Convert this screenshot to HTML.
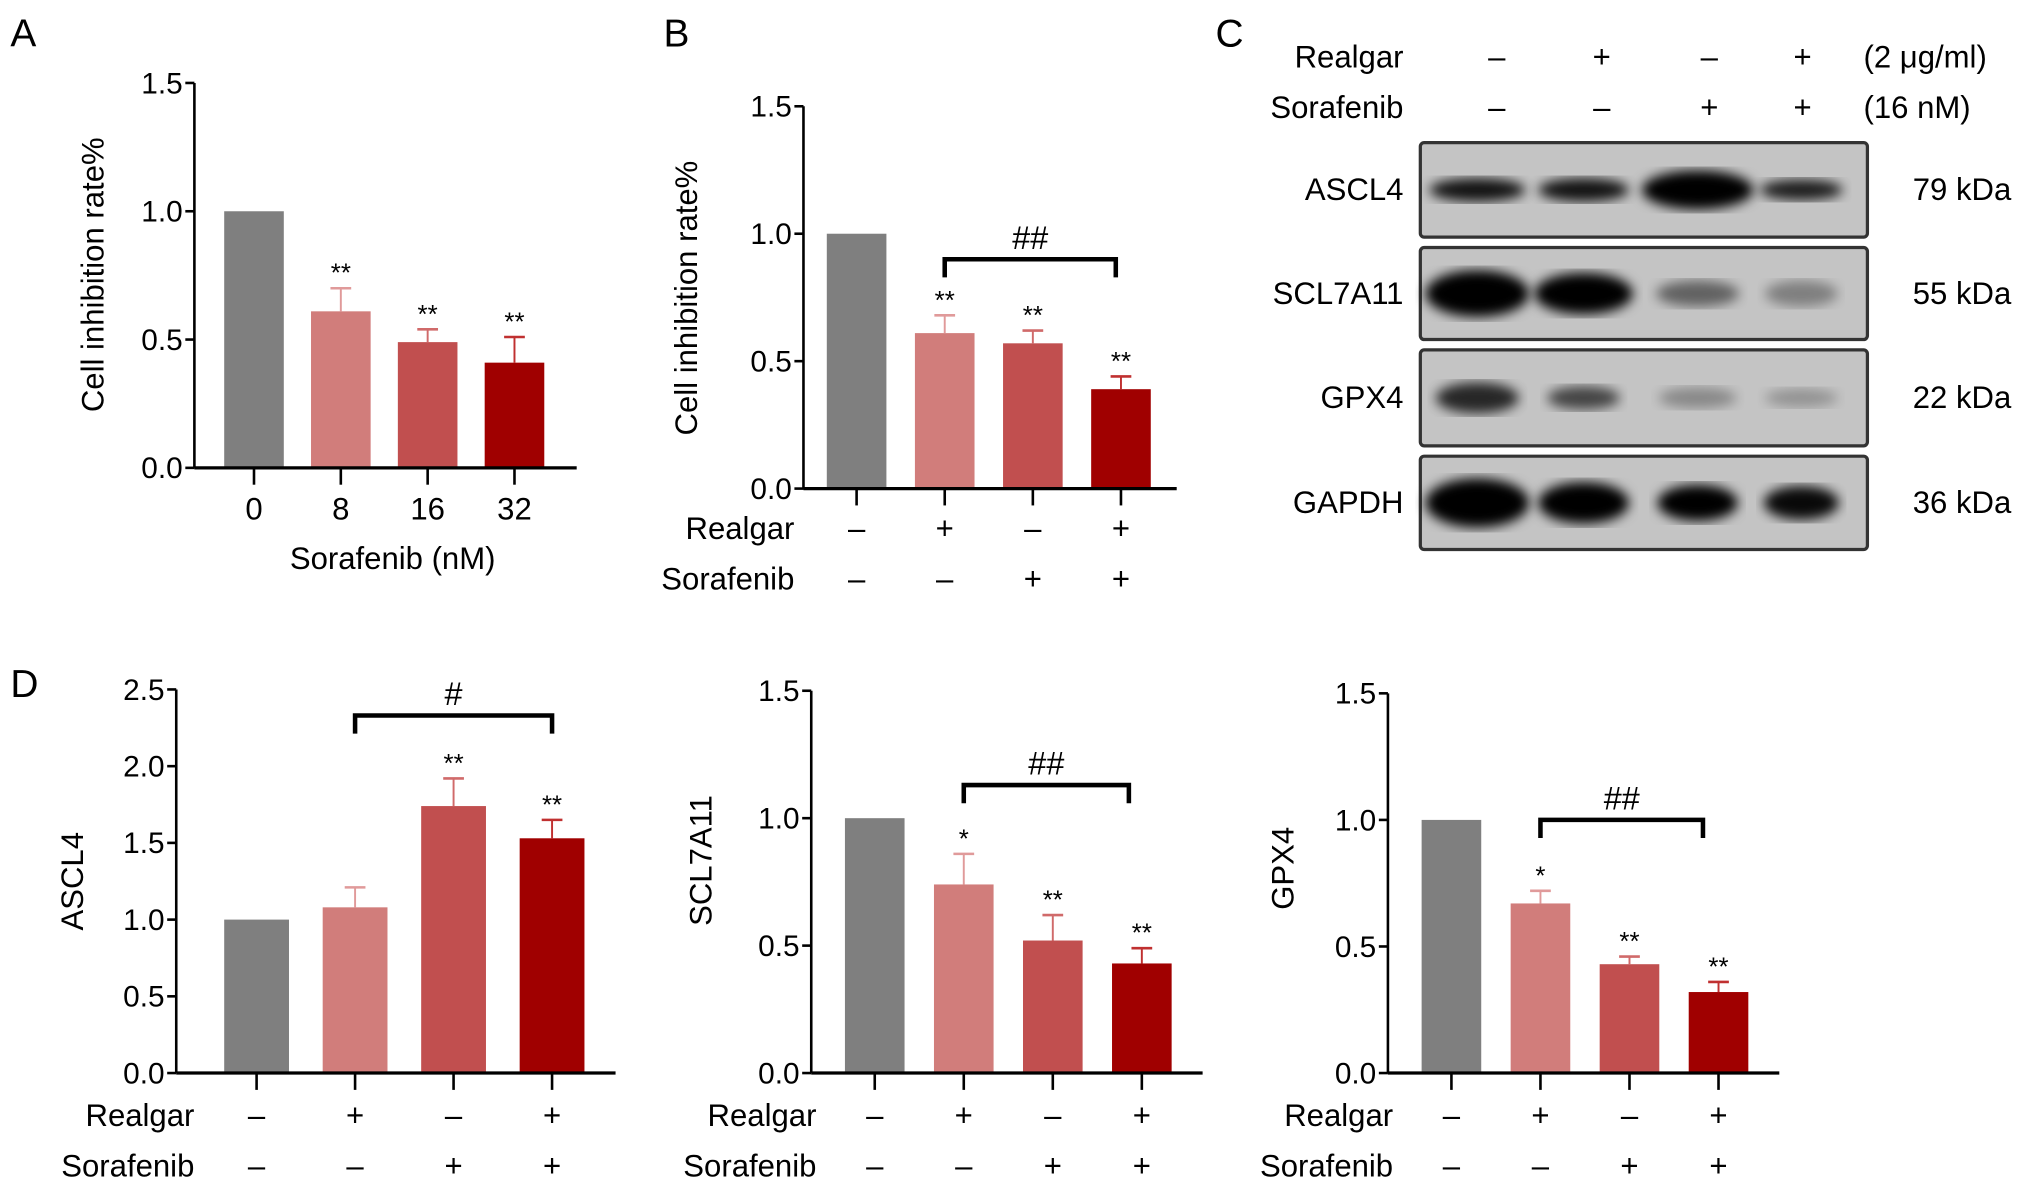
<!DOCTYPE html>
<html><head><meta charset="utf-8"><style>
html,body{margin:0;padding:0;background:#fff}
svg{display:block;font-family:"Liberation Sans",Arial,sans-serif}
</style></head><body>
<svg id="fig" width="2032" height="1191" viewBox="0 0 1568 919">
<defs><filter id="blur"><feGaussianBlur stdDeviation="4.5"/></filter></defs>
<text x="8" y="36" font-size="30">A</text>
<text x="512" y="36" font-size="30">B</text>
<text x="938" y="36" font-size="30">C</text>
<text x="8" y="538" font-size="30">D</text>
<g id="blot"></g>
</svg>
<script>
const NS="http://www.w3.org/2000/svg";
const svg=document.getElementById('fig');
const COLORS=["#7f7f7f","#d17d7b","#c14f4f","#a00000"];
const ERRC=["#7f7f7f","#e09a9a","#d06a6a","#c03030"];

// Panel A data
const aCats=["0","8","16","32"];
const aVals=[1.0,0.61,0.49,0.41];
const aErr=[0,0.09,0.05,0.10];
const aStars=["","**","**","**"];
const aTicks=[0,0.5,1.0,1.5];
// Panel B data
const bVals=[1.0,0.61,0.57,0.39];
const bErr=[0,0.07,0.05,0.05];
const bStars=["","**","**","**"];
const bTicks=[0,0.5,1.0,1.5];
// Panel D1 ASCL4
const d1Vals=[1.0,1.08,1.74,1.53];
const d1Err=[0,0.13,0.18,0.12];
const d1Stars=["","","**","**"];
const d1Ticks=[0,0.5,1.0,1.5,2.0,2.5];
// Panel D2 SCL7A11
const d2Vals=[1.0,0.74,0.52,0.43];
const d2Err=[0,0.12,0.10,0.06];
const d2Stars=["","*","**","**"];
const d2Ticks=[0,0.5,1.0,1.5];
// Panel D3 GPX4
const d3Vals=[1.0,0.67,0.43,0.32];
const d3Err=[0,0.05,0.03,0.04];
const d3Stars=["","*","**","**"];
const d3Ticks=[0,0.5,1.0,1.5];
// treatment rows
const realgarSigns=["–","+","–","+"];
const sorafenibSigns=["–","–","+","+"];

function el(tag,attrs,parent,text){const e=document.createElementNS(NS,tag);for(const k in attrs)e.setAttribute(k,attrs[k]);if(text!==undefined)e.textContent=text;(parent||svg).appendChild(e);return e;}

function chart(o,vals,errs,stars,ticks){
  const g=el('g',{});
  
  
  const ymax=ticks[ticks.length-1];
  const y=v=>o.y0-(v/ymax)*(o.y0-o.y1);
  const x=i=>o.xc0+i*o.dx;
  vals.forEach((v,i)=>{
    const r=el('rect',{x:x(i)-o.bw/2,y:y(v),width:o.bw,height:o.y0-y(v),fill:COLORS[i]},g);
    
    
    if(errs[i]>0){
      const ye=y(v+errs[i]);
      el('line',{x1:x(i),x2:x(i),y1:y(v),y2:ye,stroke:ERRC[i],'stroke-width':1.5},g);
      el('line',{x1:x(i)-8,x2:x(i)+8,y1:ye,y2:ye,stroke:ERRC[i],'stroke-width':2},g);
    }
    if(stars[i]){
      const s=el('text',{x:x(i),y:y(v+errs[i])-5,'font-size':20,'text-anchor':'middle'},g,stars[i]);
      
      
    }
  });
  el('line',{x1:o.ax,x2:o.ax,y1:y(ymax),y2:o.y0,stroke:'#000','stroke-width':2},g);
  el('line',{x1:o.ax,x2:o.xend,y1:o.y0,y2:o.y0,stroke:'#000','stroke-width':2.5},g);
  ticks.forEach(t=>{
    el('line',{x1:o.ax-7,x2:o.ax,y1:y(t),y2:y(t),stroke:'#000','stroke-width':2},g);
    const tl=el('text',{x:o.ax-9,y:y(t)+8,'font-size':23,'text-anchor':'end'},g,t.toFixed(1));
    
    
  });
  vals.forEach((v,i)=>el('line',{x1:x(i),x2:x(i),y1:o.y0,y2:o.y0+13,stroke:'#000','stroke-width':2},g));
  const yl=el('text',{transform:`translate(${o.ylx},${o.yly}) rotate(-90)`,'font-size':24,'text-anchor':'middle'},g,o.ylabel);
  
  
  if(o.cats){
    o.cats.forEach((c,i)=>{const t=el('text',{x:x(i),y:o.y0+40,'font-size':24,'text-anchor':'middle'},g,c);
      });
    const xt=el('text',{x:o.xtx,y:o.y0+78,'font-size':24,'text-anchor':'middle'},g,o.xtitle);
    
  } else {
    [["Realgar",realgarSigns,o.r1],["Sorafenib",sorafenibSigns,o.r2]].forEach(([lab,signs,ry])=>{
      const t=el('text',{x:o.labx,y:ry,'font-size':24,'text-anchor':'end'},g,lab);
      
      signs.forEach((s,i)=>el('text',{x:x(i),y:ry,'font-size':24,'text-anchor':'middle'},g,s));
    });
  }
  if(o.br){
    const [i1,i2,v,sym,x2o]=o.br;const by=y(v);
    const X1=x(i1),X2=x(i2)+(x2o||0);
    const b=el('path',{d:`M${X1},${by+14}V${by}H${X2}V${by+14}`,fill:'none',stroke:'#000','stroke-width':3.5},g);
    
    el('text',{x:(X1+X2)/2,y:by-8,'font-size':25,'text-anchor':'middle'},g,sym);
  }
}

chart({name:'chart-a',ax:150,xend:445,y0:361,y1:64,xc0:196,dx:67,bw:46,ylx:80,yly:212,ylabel:'Cell inhibition rate%',cats:aCats,xtx:303,xtitle:'Sorafenib (nM)'},aVals,aErr,aStars,aTicks);
chart({name:'chart-b',ax:620,xend:908,y0:377,y1:82,xc0:661,dx:68,bw:46,ylx:538,yly:230,ylabel:'Cell inhibition rate%',labx:613,r1:416,r2:455,br:[1,3,0.9,'##',-4]},bVals,bErr,bStars,bTicks);
chart({name:'chart-d-ascl4',ax:136,xend:475,y0:828,y1:532,xc0:198,dx:76,bw:50,ylx:64,yly:680,ylabel:'ASCL4',labx:150,r1:869,r2:908,br:[1,3,2.33,'#']},d1Vals,d1Err,d1Stars,d1Ticks);
chart({name:'chart-d-scl7a11',ax:626,xend:928,y0:828,y1:533,xc0:675,dx:68.7,bw:46,ylx:549,yly:664,ylabel:'SCL7A11',labx:630,r1:869,r2:908,br:[1,3,1.13,'##',-10]},d2Vals,d2Err,d2Stars,d2Ticks);
chart({name:'chart-d-gpx4',ax:1071,xend:1373,y0:828,y1:535,xc0:1120,dx:68.7,bw:46,ylx:998,yly:670,ylabel:'GPX4',labx:1075,r1:869,r2:908,br:[1,3,1.0,'##',-12]},d3Vals,d3Err,d3Stars,d3Ticks);

// Western blot (image-like, not chart data)
const blot=document.getElementById('blot');
const lanes=[1140,1222,1310,1390];
const laneSign=[1155,1236,1319,1391];
const rows=[["ASCL4","79 kDa",110,183],["SCL7A11","55 kDa",191,262],["GPX4","22 kDa",270,344],["GAPDH","36 kDa",352,424]];
const bandW=[[74,70,86,64],[80,76,64,56],[64,56,60,56],[80,70,62,58]];
const bandH=[[12,12,24,10],[30,26,14,14],[18,12,10,8],[32,26,22,20]];
const bandO=[[0.9,0.9,1,0.85],[1,1,0.5,0.35],[0.8,0.65,0.3,0.25],[1,1,1,0.95]];
el('text',{x:1083,y:52,'font-size':24,'text-anchor':'end'},blot,'Realgar');
el('text',{x:1083,y:91,'font-size':24,'text-anchor':'end'},blot,'Sorafenib');
el('text',{x:1438,y:52,'font-size':24},blot,'(2 μg/ml)');
el('text',{x:1438,y:91,'font-size':24},blot,'(16 nM)');
laneSign.forEach((lx,i)=>{el('text',{x:lx,y:52,'font-size':24,'text-anchor':'middle'},blot,realgarSigns[i]);el('text',{x:lx,y:91,'font-size':24,'text-anchor':'middle'},blot,sorafenibSigns[i]);});
rows.forEach(([n,k,t,b],r)=>{
  el('rect',{x:1096,y:t,width:345,height:b-t,fill:'#c4c4c4',stroke:'#333','stroke-width':2.5,rx:3},blot);
  const cy=(t+b)/2;
  lanes.forEach((lx,i)=>el('ellipse',{cx:lx,cy:cy,rx:bandW[r][i]/2,ry:bandH[r][i]/2+3,fill:'#000',opacity:bandO[r][i],filter:'url(#blur)'},blot));
  el('text',{x:1083,y:cy+8,'font-size':24,'text-anchor':'end'},blot,n);
  el('text',{x:1476,y:cy+8,'font-size':24},blot,k);
});
</script>
</body></html>
